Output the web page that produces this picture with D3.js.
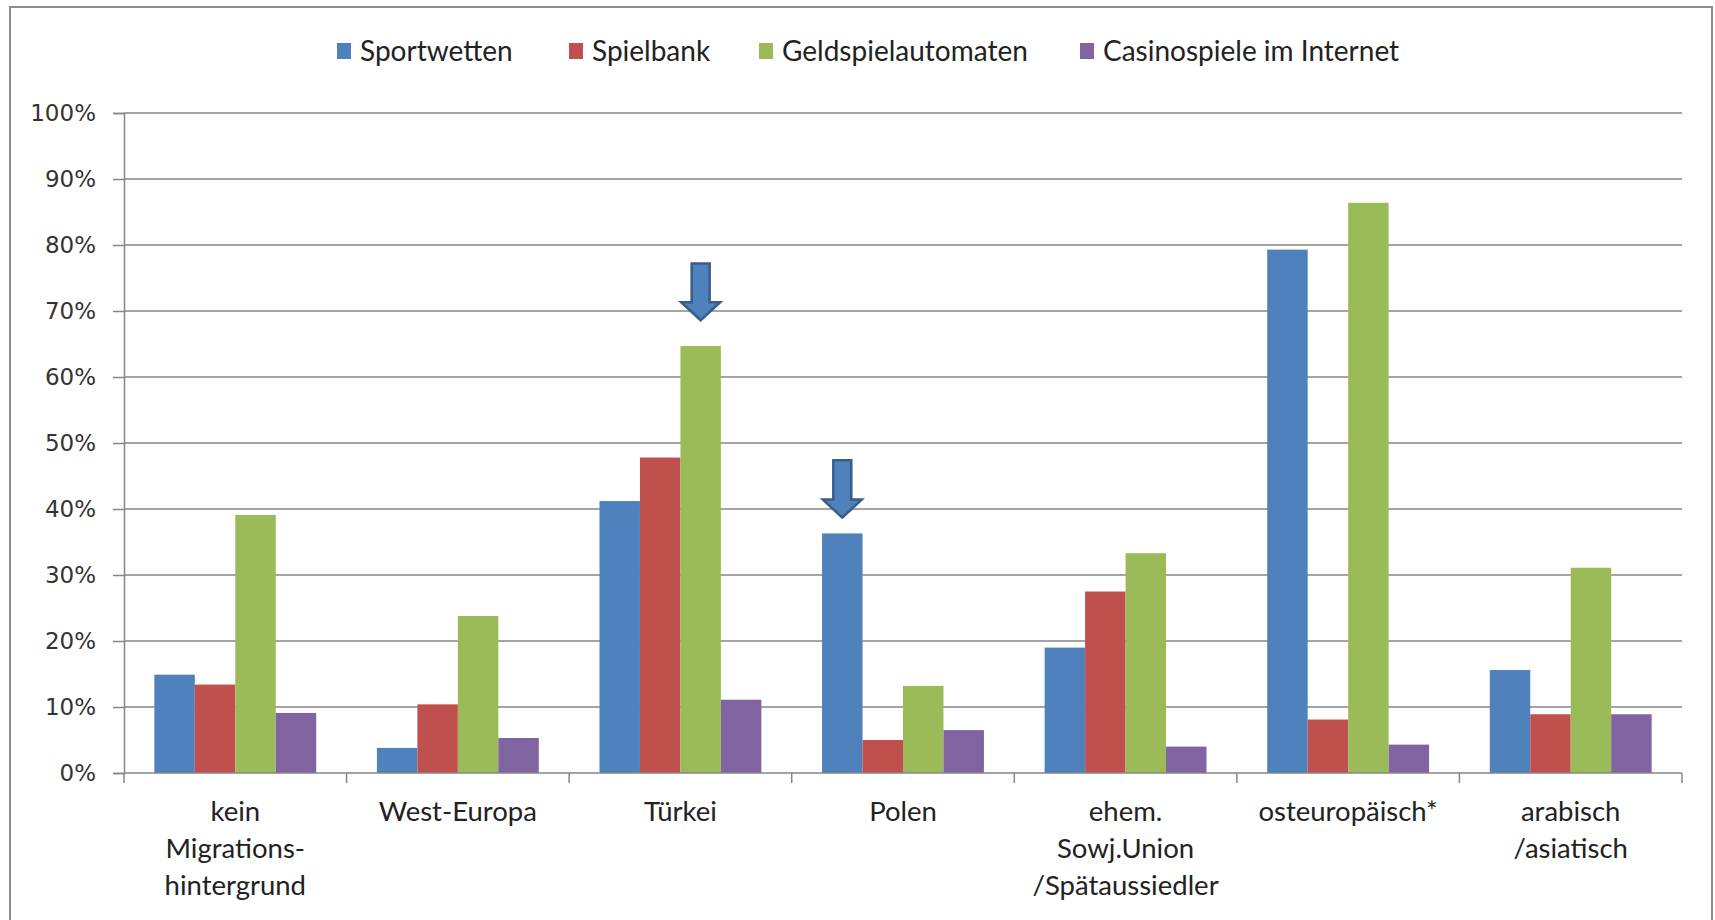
<!DOCTYPE html>
<html><head><meta charset="utf-8">
<script src="https://cdn.jsdelivr.net/npm/d3@7"></script>
<style>body{margin:0;background:#fff} svg{display:block}</style>
</head><body>
<svg id="chart" width="1715" height="920"></svg>
<script>
const categories = ["kein\nMigrations-\nhintergrund","West-Europa","Türkei","Polen","ehem.\nSowj.Union\n/Spätaussiedler","osteuropäisch*","arabisch\n/asiatisch"];
const seriesNames = ["Sportwetten","Spielbank","Geldspielautomaten","Casinospiele im Internet"];
const sportwetten = [14.9,3.8,41.2,36.3,19.0,79.3,15.6];
const spielbank = [13.4,10.4,47.8,5.0,27.5,8.1,8.9];
const geldspielautomaten = [39.1,23.8,64.7,13.2,33.3,86.4,31.1];
const casinoInternet = [9.1,5.3,11.1,6.5,4.0,4.3,8.9];
const yTicks = [0,10,20,30,40,50,60,70,80,90,100];
const colors = ["#4F81BD","#C0504D","#9BBB59","#8064A2"];
const arrows = [
  {category:"Türkei", series:"Geldspielautomaten", tip:68.6, tail:77.2},
  {category:"Polen", series:"Sportwetten", tip:38.7, tail:47.4}
];

const seriesValues = [sportwetten, spielbank, geldspielautomaten, casinoInternet];
const svg = d3.select("#chart");
const W = 1715, H = 920;
const m = {left:124, right:33, top:113, bottom:147};
const iw = W - m.left - m.right, ih = H - m.top - m.bottom;

// outer border
svg.append("rect").attr("x",10).attr("y",7).attr("width",1702).attr("height",940)
  .attr("fill","#fff").attr("stroke","#8c8c8c").attr("stroke-width",2);

const g = svg.append("g").attr("transform",`translate(${m.left},${m.top})`);
const x = d3.scaleBand().domain(categories).range([0,iw]).padding(0);
const bw = x.bandwidth()/5.5;
const xs = d3.scaleBand().domain(seriesNames).range([bw*0.75, x.bandwidth()-bw*0.75]).padding(0);
const y = d3.scaleLinear().domain([0,100]).range([ih,0]);

// gridlines & y axis
const yAxis = d3.axisLeft(y).tickValues(yTicks).tickFormat(d=>d+"%").tickSize(11).tickPadding(17);
const ya = g.append("g").call(yAxis);
ya.select(".domain").attr("stroke","#868686").attr("stroke-width",1.5);
ya.selectAll(".tick line").attr("stroke","#868686").attr("stroke-width",1.5);
ya.selectAll(".tick text").attr("fill","#333").style("font-family","'DejaVu Sans'").style("font-size","23px");
g.append("g").selectAll("line").data(yTicks.filter(d=>d>0)).join("line")
  .attr("x1",0).attr("x2",iw).attr("y1",d=>y(d)).attr("y2",d=>y(d))
  .attr("stroke","#868686").attr("stroke-width",1.5);

// bars
const rows = categories.map((c,i)=>({c, vals: seriesNames.map((s,j)=>({s, v: seriesValues[j][i], color: colors[j]}))}));
g.append("g").selectAll("g").data(rows).join("g")
  .attr("transform",d=>`translate(${x(d.c)},0)`)
  .selectAll("rect").data(d=>d.vals).join("rect")
  .attr("x",d=>xs(d.s)).attr("width",xs.bandwidth())
  .attr("y",d=>y(d.v)).attr("height",d=>y(0)-y(d.v)).attr("fill",d=>d.color);

// x axis
const xa = g.append("g").attr("transform",`translate(0,${ih})`);
xa.append("line").attr("x1",0).attr("x2",iw).attr("stroke","#868686").attr("stroke-width",1.5);
const bounds = categories.map(c=>x(c)).concat([iw]);
xa.selectAll("line.t").data(bounds).join("line").attr("class","t")
  .attr("x1",d=>d).attr("x2",d=>d).attr("y1",0).attr("y2",10).attr("stroke","#868686").attr("stroke-width",1.5);
const lab = xa.selectAll("text").data(categories).join("text")
  .attr("x",d=>x(d)+x.bandwidth()/2).attr("y",48)
  .attr("text-anchor","middle").attr("fill","#222")
  .style("font-family","Lato").style("font-size","27.5px");
lab.each(function(d){
  const t = d3.select(this);
  d.split("\n").forEach((line,i)=>t.append("tspan").attr("x",x(d)+x.bandwidth()/2).attr("dy",i?37:0).text(line));
});

// arrows
arrows.forEach(a=>{
  const cx = x(a.category)+xs(a.series)+xs.bandwidth()/2;
  const yt = y(a.tip), ya0 = y(a.tail), hl = 18, sw = 9, hw = 19.5;
  const p = d3.path();
  p.moveTo(cx-sw, ya0); p.lineTo(cx+sw, ya0); p.lineTo(cx+sw, yt-hl); p.lineTo(cx+hw, yt-hl);
  p.lineTo(cx, yt); p.lineTo(cx-hw, yt-hl); p.lineTo(cx-sw, yt-hl); p.closePath();
  g.append("path").attr("d",p.toString()).attr("fill","#4F81BD").attr("stroke","#385D8A").attr("stroke-width",2.5).attr("stroke-linejoin","miter");
});

// legend
const leg = svg.append("g").attr("transform","translate(0,51)");
const legX = [337,569,759,1080];
seriesNames.forEach((s,i)=>{
  leg.append("rect").attr("x",legX[i]).attr("y",-8).attr("width",14).attr("height",16).attr("fill",colors[i]);
  leg.append("text").attr("x",legX[i]+23).attr("y",9.5).attr("fill","#222")
    .style("font-family","Lato").style("font-size","28px").text(s);
});
</script>
</body></html>
